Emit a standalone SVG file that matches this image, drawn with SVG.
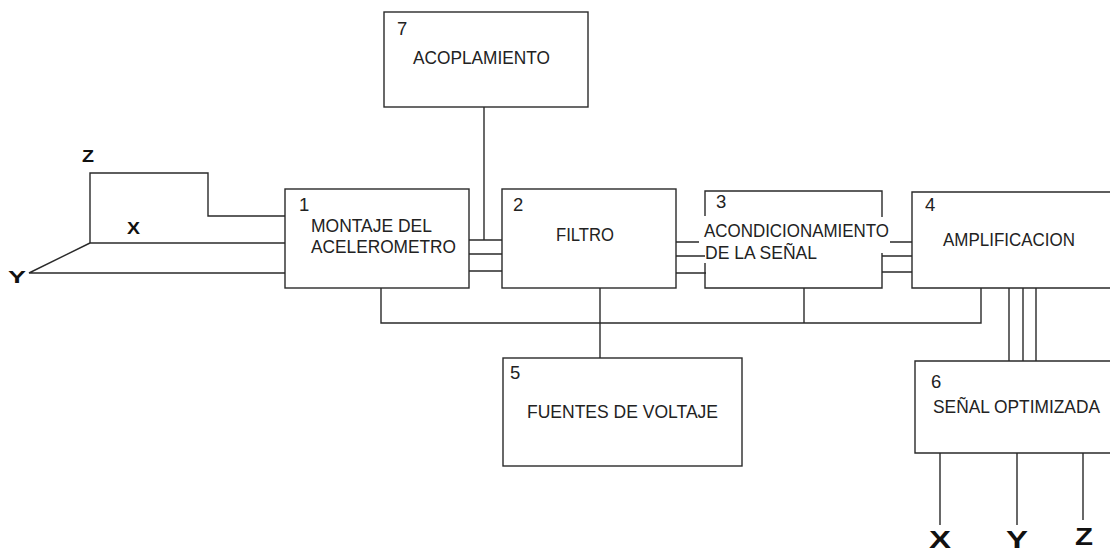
<svg xmlns="http://www.w3.org/2000/svg" width="1110" height="551" viewBox="0 0 1110 551">
<style>
.ln{fill:none;stroke:#2a2a2a;stroke-width:1.4}
.bx{fill:#fff;stroke:#2a2a2a;stroke-width:1.4}
.t{font-family:"Liberation Sans",Arial,sans-serif;font-size:18.5px;fill:#222}
.b{font-family:"Liberation Sans",Arial,sans-serif;font-weight:bold;fill:#111}
</style>
<rect width="1110" height="551" fill="#fff"/>
<g id="connectors">
<path class="ln" d="M90,243 V173 H208 V216 H285"/>
<path class="ln" d="M90,243 H285"/>
<path class="ln" d="M90,243 L29,273 H285"/>
<path class="ln" d="M484,107 V240"/>
<path class="ln" d="M469,240 H502 M469,254 H502 M469,271 H502"/>
<path class="ln" d="M676,242 H699 M676,256 H705 M676,273 H706"/>
<path class="ln" d="M890,242 H912 M882,256 H912 M882,272 H912"/>
<path class="ln" d="M381,288 V323 H981 V288"/>
<path class="ln" d="M600,288 V358"/>
<path class="ln" d="M804,288 V323"/>
<path class="ln" d="M1009,288 V361 M1023,288 V361 M1036,288 V361"/>
<path class="ln" d="M940,453 V525 M1017,453 V525 M1083,453 V520"/>
</g>
<g id="axes-in">
<text class="b" x="82" y="162" font-size="16" textLength="12" lengthAdjust="spacingAndGlyphs">Z</text>
<text class="b" x="127" y="234" font-size="16" textLength="13" lengthAdjust="spacingAndGlyphs">X</text>
<text class="b" x="8" y="283" font-size="16" textLength="18" lengthAdjust="spacingAndGlyphs">Y</text>
</g>
<g id="n7">
<rect class="bx" x="384" y="12" width="204" height="95"/>
<text class="t" x="397" y="35">7</text>
<text class="t" x="413" y="64" textLength="137" lengthAdjust="spacingAndGlyphs">ACOPLAMIENTO</text>
</g>
<g id="n1">
<rect class="bx" x="285" y="189" width="184" height="99"/>
<text class="t" x="299" y="211">1</text>
<text class="t" x="311" y="232" textLength="121" lengthAdjust="spacingAndGlyphs">MONTAJE DEL</text>
<text class="t" x="311" y="253" textLength="145" lengthAdjust="spacingAndGlyphs">ACELEROMETRO</text>
</g>
<g id="n2">
<rect class="bx" x="502" y="189" width="174" height="99"/>
<text class="t" x="513" y="211">2</text>
<text class="t" x="556" y="241" textLength="58" lengthAdjust="spacingAndGlyphs">FILTRO</text>
</g>
<g id="n3">
<path class="ln" d="M705,216 V191 H882 V217 M882,253 V288 H705 V263"/>
<text class="t" x="716" y="208">3</text>
<text class="t" x="704" y="237" textLength="185" lengthAdjust="spacingAndGlyphs">ACONDICIONAMIENTO</text>
<text class="t" x="705" y="259" textLength="112" lengthAdjust="spacingAndGlyphs">DE LA SEÑAL</text>
</g>
<g id="n4">
<path class="ln" d="M1112,192 H912 V288 H1112"/>
<text class="t" x="925" y="211">4</text>
<text class="t" x="943" y="246" textLength="132" lengthAdjust="spacingAndGlyphs">AMPLIFICACION</text>
</g>
<g id="n5">
<rect class="bx" x="503" y="358" width="239" height="108"/>
<text class="t" x="510" y="379">5</text>
<text class="t" x="527" y="418" textLength="191" lengthAdjust="spacingAndGlyphs">FUENTES DE VOLTAJE</text>
</g>
<g id="n6">
<path class="ln" d="M1112,361 H915 V453 H1112"/>
<text class="t" x="931" y="388">6</text>
<text class="t" x="933" y="413" textLength="167" lengthAdjust="spacingAndGlyphs">SEÑAL OPTIMIZADA</text>
</g>
<g id="axes-out">
<text class="b" x="929" y="548" font-size="24" textLength="22" lengthAdjust="spacingAndGlyphs">X</text>
<text class="b" x="1006" y="548" font-size="24" textLength="22" lengthAdjust="spacingAndGlyphs">Y</text>
<text class="b" x="1075" y="545" font-size="23" textLength="18" lengthAdjust="spacingAndGlyphs">Z</text>
</g>
</svg>
